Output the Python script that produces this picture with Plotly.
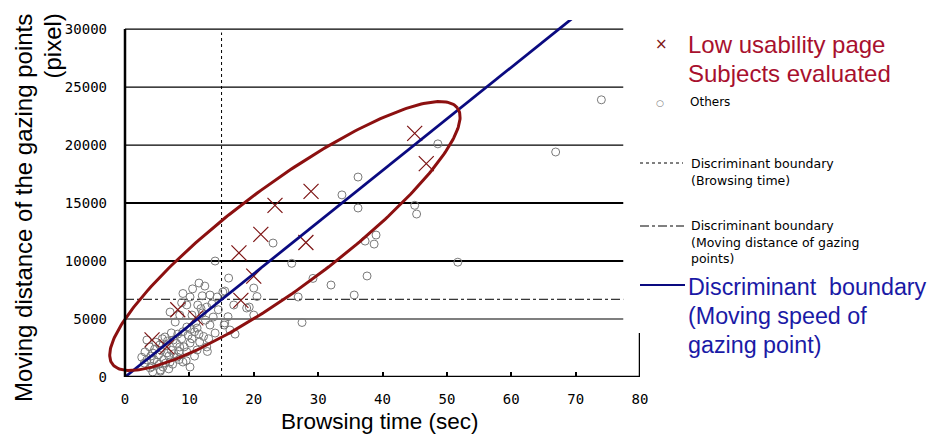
import numpy as np
import plotly.graph_objects as go

# ---------------- data ----------------
low_usability_time = [4.2, 6.5, 8.2, 11.0, 18.0, 17.7, 20.0, 21.1, 23.3, 28.1, 28.9, 45.0, 46.8]
low_usability_dist = [3200, 2600, 5800, 5100, 6600, 10700, 8700, 12300, 14800, 11600, 16000, 21000, 18400]

others_time = [
    74.0, 66.9, 48.6, 45.0, 45.3, 51.7, 36.2, 33.7, 36.2, 39.0, 37.3, 38.7, 23.0, 25.9, 14.0,
    37.6, 32.0, 29.2, 35.6, 26.9, 27.5, 20.0, 20.5, 20.0, 16.1, 11.5, 12.4, 15.5, 18.9, 17.1,
    16.0, 15.4, 15.2, 16.3, 19.3, 16.9, 15.5,
    13.2, 10.1, 11.3, 12.7, 9.6, 10.4, 12.0, 13.7, 8.5, 7.8, 9.6, 11.2, 13.2, 14.0, 6.2, 7.5,
    3.4, 5.4, 8.5, 10.1, 11.6, 12.7, 3.1, 4.3, 6.5, 8.1, 9.6, 11.2, 3.4, 5.0, 5.9, 3.9, 7.0,
    9.0, 10.1,
    4.0, 4.6, 5.2, 5.6, 6.0, 6.4, 6.8, 7.2, 7.6, 8.0, 8.4, 8.8, 9.2, 9.8, 10.4, 10.8, 11.5,
    12.2, 12.5, 11.0, 10.2, 9.0, 8.2, 7.2, 6.6, 5.8, 4.8, 3.8, 4.5, 5.3, 6.3, 7.4, 8.4, 3.0,
    2.6, 4.2, 5.5, 6.8, 13.5, 14.5, 9.0, 10.5, 12.0, 7.0, 8.8, 14.3, 11.8, 13.0, 12.8, 10.8,
    9.5, 4.3, 5.5,
]
others_dist = [
    23900, 19400, 20100, 14800, 14050, 9900, 17240, 15700, 14570, 12240, 11720, 11460, 11550, 9800, 10000,
    8710, 7930, 8500, 7070, 6900, 4700, 7670, 6940, 5340, 8530, 8100, 7840, 7410, 5950, 3700,
    5200, 4480, 7330, 4050, 6030, 6210, 4660,
    7070, 6900, 6210, 6030, 6210, 5340, 5520, 5170, 5340, 4740, 4310, 4220, 4480, 3790, 3450, 3190,
    3190, 2760, 2590, 2930, 3020, 2590, 2160, 2070, 2070, 1720, 2160, 2330, 1470, 1290, 860, 780, 1290,
    1290, 860,
    1800, 2400, 1900, 2300, 1500, 2700, 1800, 2300, 2000, 2900, 2200, 3300, 2600, 3600, 3300, 3900, 3700,
    3500, 4900, 4700, 4100, 3900, 3700, 3800, 3100, 3300, 3000, 2600, 1500, 1100, 1200, 1100, 1500, 1200,
    1700, 900, 600, 700, 6300, 5800, 7200, 7600, 7000, 5600, 6400, 6900, 5900, 3300, 2200, 1800,
    1400, 430, 500,
]

x_ticks = [0, 10, 20, 30, 40, 50, 60, 70, 80]
y_ticks = [0, 5000, 10000, 15000, 20000, 25000, 30000]

time_boundary = 15          # sec
distance_boundary = 6700    # pixel
speed_boundary = 445        # pixel / sec

# ellipse (data units): centre, semi-major vector, semi-minor vector
ell_center = (24.84, 12155)
ell_major = (26.8, 11045)
ell_minor = (4.72, -3534)

# ---------------- layout geometry ----------------
W, H = 935, 436
OFF = 8                       # page body margin of the html page
# target plot area in window pixels
PL, PR, PT, PB = 108, 640, 20, 377
L, R, T, B = PL - OFF, W - (PR - OFF), PT - OFF, H - (PB - OFF)
PW, PH = PR - PL, PB - PT
X0 = -(125 - PL) / ((PR - 125) / 80)


def pxx(x):
    return (x - PL) / PW


def pxy(y):
    return (PB - y) / PH


RED_MK = "#7d1414"
ELL = "#8c1010"
NAVY = "#0a0a80"
GREY = "#7a7a7a"
RED_TXT = "#a8102e"
BLUE_TXT = "#1a1aa6"
MONO = "DejaVu Sans Mono"
SANS = "Liberation Sans, Arial, sans-serif"

fig = go.Figure()

fig.add_trace(go.Scatter(
    x=others_time, y=others_dist, mode="markers",
    marker=dict(symbol="circle-open", size=8, color=GREY, line=dict(width=1, color=GREY)),
    showlegend=False, hoverinfo="skip"))

fig.add_trace(go.Scatter(
    x=low_usability_time, y=low_usability_dist, mode="markers",
    marker=dict(symbol="x-thin-open", size=15, color=RED_MK, line=dict(width=1.2, color=RED_MK)),
    showlegend=False, hoverinfo="skip"))

# speed boundary line through origin
sx = np.array([0, 72])
fig.add_trace(go.Scatter(x=sx, y=speed_boundary * sx, mode="lines",
                         line=dict(color=NAVY, width=2.8), showlegend=False, hoverinfo="skip"))

# ellipse
t = np.linspace(0, 2 * np.pi, 300)
ex = ell_center[0] + ell_major[0] * np.cos(t) + ell_minor[0] * np.sin(t)
ey = ell_center[1] + ell_major[1] * np.cos(t) + ell_minor[1] * np.sin(t)
fig.add_trace(go.Scatter(x=ex, y=ey, mode="lines", line=dict(color=ELL, width=3),
                         showlegend=False, hoverinfo="skip"))

shapes = []
grid_end = 77.4
for v in y_ticks[1:]:
    w = 2 if v in (10000, 15000) else 1.2
    shapes.append(dict(type="line", xref="x", yref="y", x0=0, x1=grid_end, y0=v, y1=v,
                       line=dict(color="black", width=w), layer="below"))
# boundaries
shapes.append(dict(type="line", xref="x", yref="y", x0=time_boundary, x1=time_boundary, y0=0, y1=29700,
                   line=dict(color="black", width=1, dash="dot"), layer="below"))
shapes.append(dict(type="line", xref="x", yref="y", x0=0, x1=grid_end, y0=distance_boundary, y1=distance_boundary,
                   line=dict(color="black", width=1, dash="dashdot"), layer="below"))
# axis lines
shapes.append(dict(type="line", xref="x", yref="y", x0=0, x1=0, y0=0, y1=30000,
                   line=dict(color="black", width=2.5)))
shapes.append(dict(type="line", xref="x", yref="y", x0=0, x1=80, y0=0, y1=0,
                   line=dict(color="black", width=2.5)))
shapes.append(dict(type="line", xref="x", yref="y", x0=80, x1=80, y0=0, y1=3800,
                   line=dict(color="black", width=2.5)))

# legend line samples
shapes.append(dict(type="line", xref="paper", yref="paper", x0=pxx(640), x1=pxx(683), y0=pxy(163), y1=pxy(163),
                   line=dict(color="black", width=1, dash="dot")))
shapes.append(dict(type="line", xref="paper", yref="paper", x0=pxx(640), x1=pxx(684), y0=pxy(226), y1=pxy(226),
                   line=dict(color="black", width=1, dash="dashdot")))
shapes.append(dict(type="line", xref="paper", yref="paper", x0=pxx(640), x1=pxx(685), y0=pxy(285), y1=pxy(285),
                   line=dict(color=NAVY, width=2)))

ann = []


def text(s, x, y, size, color="black", family=SANS, xanchor="left", yanchor="middle", angle=0):
    ann.append(dict(text=s, xref="paper", yref="paper", x=pxx(x), y=pxy(y), xanchor=xanchor,
                    yanchor=yanchor, showarrow=False, textangle=angle,
                    font=dict(size=size, color=color, family=family)))


# axis titles
text("Browsing time (sec)", 380, 421, 22.5, xanchor="center")
text("Moving distance of the gazing points", 23, 12, 24, xanchor="center", yanchor="top", angle=-90)
text("(pixel)", 52, 12, 24, xanchor="center", yanchor="top", angle=-90)

# legend
text("×", 661, 44, 15, color=RED_MK, family="DejaVu Sans", xanchor="center")
text("Low usability page", 686, 45, 24, color=RED_TXT)
text("Subjects evaluated", 686, 73, 24, color=RED_TXT)
text("○", 660, 103, 9, color=GREY, family="DejaVu Sans", xanchor="center")
text("Others", 688, 102, 12, family="DejaVu Sans")
text("Discriminant boundary", 689, 163, 12.5, family="DejaVu Sans")
text("(Browsing time)", 689, 181, 12.5, family="DejaVu Sans")
text("Discriminant boundary", 689, 226, 12.5, family="DejaVu Sans")
text("(Moving distance of gazing", 689, 242, 12.5, family="DejaVu Sans")
text("points)", 689, 258, 12.5, family="DejaVu Sans")
text("Discriminant  boundary", 686, 287, 23.3, color=BLUE_TXT)
text("(Moving speed of", 686, 316, 23.3, color=BLUE_TXT)
text("gazing point)", 686, 345, 23.3, color=BLUE_TXT)

fig.update_layout(
    width=W, height=H,
    margin=dict(l=L, r=R, t=T, b=B, pad=0),
    paper_bgcolor="white", plot_bgcolor="white",
    shapes=shapes, annotations=ann,
    xaxis=dict(range=[X0, 80], tickvals=x_ticks, ticktext=[str(v) for v in x_ticks],
               showgrid=False, zeroline=False, showline=False,
               ticks="inside", ticklen=5, tickwidth=2, tickcolor="black",
               ticklabelstandoff=12,
               tickfont=dict(family=MONO, size=14, color="black")),
    yaxis=dict(range=[0, 30780], tickvals=y_ticks, ticktext=[str(v) for v in y_ticks],
               showgrid=False, zeroline=False, showline=False, ticks="",
               ticklabelstandoff=0,
               tickfont=dict(family=MONO, size=14, color="black")),
)

fig.write_html("out.html")
